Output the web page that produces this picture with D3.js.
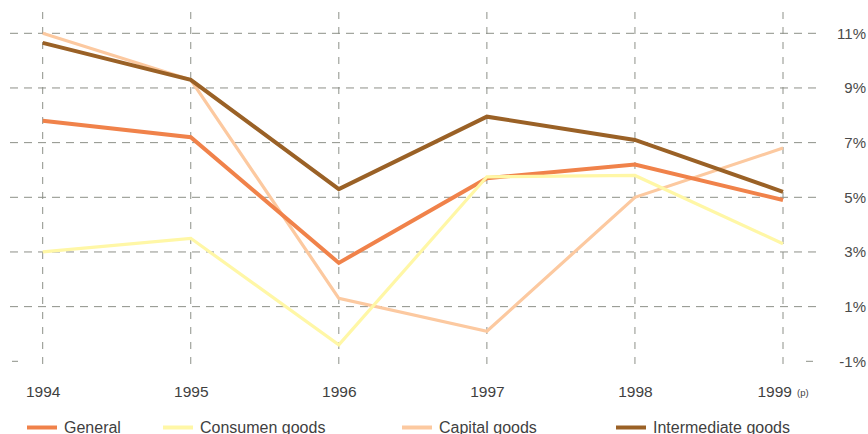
<!DOCTYPE html>
<html>
<head>
<meta charset="utf-8">
<script src="https://cdn.jsdelivr.net/npm/d3@7"></script>
<style>
  html, body { margin: 0; padding: 0; background: #fff; }
  svg { display: block; font-family: "Liberation Sans", Arial, sans-serif; }
</style>
</head>
<body>
<svg id="chart" width="868" height="434"></svg>
<script>
const years = ["1994", "1995", "1996", "1997", "1998", "1999"];
const yTicks = [-1, 1, 3, 5, 7, 9, 11];
const general = [7.8, 7.2, 2.6, 5.7, 6.2, 4.9];
const consumer = [3.0, 3.5, -0.4, 5.75, 5.8, 3.3];
const capital = [11.0, 9.3, 1.3, 0.1, 5.0, 6.8];
const intermediate = [10.65, 9.3, 5.3, 7.95, 7.1, 5.2];
const seriesNames = ["General", "Consumen goods", "Capital goods", "Intermediate goods"];
const colors = ["#f0824a", "#fff7a6", "#fcc9a0", "#9a6126"];
const widths = [4, 3.2, 3.2, 4];

const series = [
  { name: seriesNames[0], values: general, color: colors[0], w: widths[0] },
  { name: seriesNames[1], values: consumer, color: colors[1], w: widths[1] },
  { name: seriesNames[2], values: capital, color: colors[2], w: widths[2] },
  { name: seriesNames[3], values: intermediate, color: colors[3], w: widths[3] }
];

const svg = d3.select("#chart");
const x = d3.scalePoint().domain(years).range([42.7, 783]);
const y = d3.scaleLinear().domain([-1, 11]).range([361.3, 33.3]);
const gridColor = "#8d9088";

// horizontal gridlines
const grid = svg.append("g");
grid.selectAll("line.h")
  .data(yTicks.filter(d => d !== -1))
  .join("line")
  .attr("x1", 10).attr("x2", 818)
  .attr("y1", d => y(d)).attr("y2", d => y(d))
  .attr("stroke", gridColor).attr("stroke-width", 1)
  .attr("stroke-dasharray", "8,6");
// -1 short marks
grid.append("line").attr("x1", 12).attr("x2", 18).attr("y1", y(-1)).attr("y2", y(-1))
  .attr("stroke", gridColor).attr("stroke-width", 1);
grid.append("line").attr("x1", 806).attr("x2", 813).attr("y1", y(-1)).attr("y2", y(-1))
  .attr("stroke", gridColor).attr("stroke-width", 1);
// vertical gridlines
grid.selectAll("line.v")
  .data(years)
  .join("line")
  .attr("x1", d => x(d)).attr("x2", d => x(d))
  .attr("y1", 12).attr("y2", 371)
  .attr("stroke", gridColor).attr("stroke-width", 1)
  .attr("stroke-dasharray", "7,8");

// right axis labels
const yAxis = d3.axisRight(y).tickValues(yTicks).tickSize(0).tickFormat(d => d + "%");
const ya = svg.append("g").attr("transform", "translate(866,0)").call(yAxis);
ya.select(".domain").remove();
ya.selectAll("text")
  .attr("x", 0).attr("text-anchor", "end")
  .attr("font-size", 15).attr("fill", "#4a4a4a")
  .attr("font-family", "Liberation Sans, Arial, sans-serif");

// bottom year labels
const xAxis = d3.axisBottom(x).tickSize(0).tickFormat(d => d);
const xa = svg.append("g").attr("transform", "translate(0,386)").call(xAxis);
xa.select(".domain").remove();
xa.selectAll("text")
  .attr("dy", 0).attr("y", 11)
  .attr("font-size", 15.5).attr("fill", "#3f3f3f")
  .attr("font-family", "Liberation Sans, Arial, sans-serif");
// last label with (p)
xa.selectAll(".tick").filter(d => d === "1999").select("text")
  .attr("text-anchor", "start").attr("x", -26)
  .call(t => t.append("tspan").attr("font-size", 9.5).attr("dx", 5).attr("dy", -1).text("(p)"));

// lines
const line = d3.line().x((d, i) => x(years[i])).y(d => y(d));
const drawOrder = [2, 0, 1, 3];
svg.append("g").selectAll("path")
  .data(drawOrder.map(i => series[i]))
  .join("path")
  .attr("d", d => line(d.values))
  .attr("fill", "none")
  .attr("stroke", d => d.color)
  .attr("stroke-width", d => d.w)
  .attr("stroke-linejoin", "miter");

// legend
const legX = [27, 163, 402, 616];
const leg = svg.append("g").selectAll("g")
  .data(series)
  .join("g")
  .attr("transform", (d, i) => `translate(${legX[i]},0)`);
leg.append("line")
  .attr("x1", 0).attr("x2", 30).attr("y1", 427.5).attr("y2", 427.5)
  .attr("stroke", d => d.color).attr("stroke-width", 4);
leg.append("text")
  .attr("x", 37).attr("y", 432.5)
  .attr("font-size", 16).attr("fill", "#3f3f3f")
  .text(d => d.name);
</script>
</body>
</html>
